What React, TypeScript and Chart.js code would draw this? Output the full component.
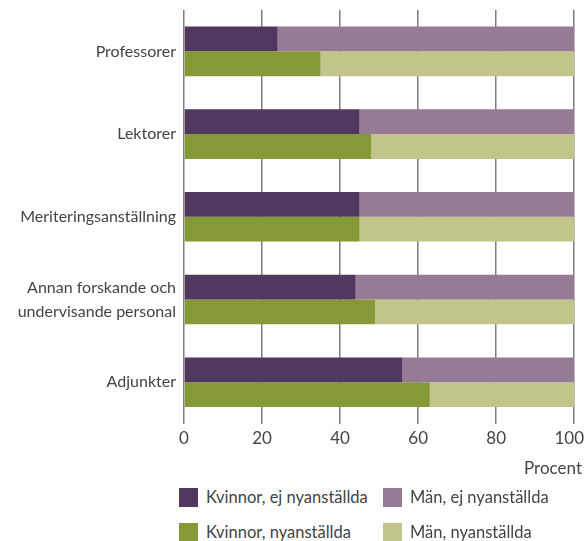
import React, { useEffect, useRef } from "react";
import { Chart, registerables } from "chart.js";

Chart.register(...registerables);

const categories: (string | string[])[] = [
  "Professorer",
  "Lektorer",
  "Meriteringsanställning",
  ["Annan forskande och", "undervisande personal"],
  "Adjunkter",
];
const kvinnorEj = [24, 45, 45, 44, 56];
const manEj = [76, 55, 55, 56, 44];
const kvinnorNy = [35, 48, 45, 49, 63];
const manNy = [65, 52, 55, 51, 37];
const xTicks = [0, 20, 40, 60, 80, 100];
const xTitle = "Procent";

const COLORS = {
  kvinnorEj: "#52375e",
  manEj: "#977a95",
  kvinnorNy: "#869937",
  manNy: "#c1c58a",
};

const FONT = "Lato, 'Open Sans', sans-serif";
const TEXT = "#444444";

const legendItems = [
  { label: "Kvinnor, ej nyanställda", color: COLORS.kvinnorEj, left: 179, top: 488 },
  { label: "Män, ej nyanställda", color: COLORS.manEj, left: 383, top: 488 },
  { label: "Kvinnor, nyanställda", color: COLORS.kvinnorNy, left: 179, top: 523 },
  { label: "Män, nyanställda", color: COLORS.manNy, left: 383, top: 523 },
];

const lastLabelFit = {
  id: "lastLabelFit",
  beforeDraw(chart: any) {
    const sx = chart.scales.x;
    if (!sx || !sx.getLabelItems) return;
    const items = sx.getLabelItems();
    if (!items || !items.length) return;
    const last = items[items.length - 1];
    if (last && last.options && last.options.translation) {
      last.options.textAlign = "right";
      last.options.translation = [584, last.options.translation[1]];
    }
  },
};

export default function App() {
  const ref = useRef<HTMLCanvasElement | null>(null);
  useEffect(() => {
    if (!ref.current) return;
    const chart = new Chart(ref.current, {
      type: "bar",
      data: {
        labels: categories,
        datasets: [
          { label: "Kvinnor, ej nyanställda", data: kvinnorEj, backgroundColor: COLORS.kvinnorEj, stack: "ej" },
          { label: "Män, ej nyanställda", data: manEj, backgroundColor: COLORS.manEj, stack: "ej" },
          { label: "Kvinnor, nyanställda", data: kvinnorNy, backgroundColor: COLORS.kvinnorNy, stack: "ny" },
          { label: "Män, nyanställda", data: manNy, backgroundColor: COLORS.manNy, stack: "ny" },
        ],
      },
      plugins: [lastLabelFit],
      options: {
        indexAxis: "y",
        animation: false,
        responsive: false,
        maintainAspectRatio: false,
        datasets: { bar: { categoryPercentage: 0.6, barPercentage: 1.0, borderWidth: 0 } },
        layout: { padding: { top: 10, left: 0, right: 0, bottom: 26 } },
        plugins: { legend: { display: false }, tooltip: { enabled: false } },
        scales: {
          x: {
            stacked: true,
            min: 0,
            max: 100,
            afterBuildTicks: (scale: any) => {
              scale.ticks = xTicks.map((v) => ({ value: v }));
            },
            grid: { color: "#7d7d7d", lineWidth: 1.5, drawTicks: false },
            border: { display: false },
            ticks: {
              padding: 5,
              color: TEXT,
              font: { family: FONT, size: 17 },
              maxRotation: 0,
            },
          },
          y: {
            stacked: true,
            afterFit: (scale: any) => {
              scale.width = 184;
              scale.paddingTop = 0;
              scale.paddingBottom = 0;
            },
            grid: { display: false, drawTicks: false },
            border: { display: false },
            ticks: {
              padding: 8,
              color: TEXT,
              font: { family: FONT, size: 16, lineHeight: 1.5 },
            },
          },
        },
      },
    });
    return () => chart.destroy();
  }, []);

  return (
    <div
      style={{
        position: "absolute",
        left: 0,
        top: 0,
        width: 586,
        height: 541,
        overflow: "hidden",
        background: "#fff",
        fontFamily: FONT,
      }}
    >
      <canvas ref={ref} width={594} height={480} style={{ position: "absolute", left: 0, top: 0, width: 594, height: 480 }} />
      <div
        style={{
          position: "absolute",
          right: 4,
          top: 458,
          fontSize: 17,
          lineHeight: "20px",
          color: TEXT,
          whiteSpace: "nowrap",
        }}
      >
        {xTitle}
      </div>
      {legendItems.map((it) => (
        <div
          key={it.label}
          style={{ position: "absolute", left: it.left, top: it.top, height: 19, display: "flex", alignItems: "center" }}
        >
          <span style={{ display: "inline-block", width: 19, height: 19, background: it.color }} />
          <span style={{ marginLeft: 8, fontSize: 16.5, color: TEXT, whiteSpace: "nowrap", lineHeight: "19px" }}>{it.label}</span>
        </div>
      ))}
    </div>
  );
}
